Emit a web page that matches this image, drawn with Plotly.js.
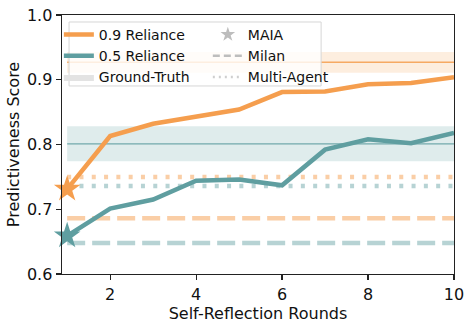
<!DOCTYPE html>
<html>
<head>
<meta charset="utf-8">
<script src="https://cdn.plot.ly/plotly-3.0.1.min.js"></script>
<style>
  html, body { margin: 0; padding: 0; background: #fff; }
  #chart { width: 473px; height: 327px; }
</style>
</head>
<body>
<div id="chart"></div>
<script>
// self-reflection rounds
var rounds = [1, 2, 3, 4, 5, 6, 7, 8, 9, 10];

// predictiveness per round
var reliance09 = [0.731, 0.813, 0.832, 0.843, 0.854, 0.881, 0.882, 0.893, 0.895, 0.904];
var reliance05 = [0.659, 0.701, 0.715, 0.744, 0.746, 0.737, 0.792, 0.808, 0.802, 0.818];

// baselines, [0.9 reliance, 0.5 reliance]
var gtMean = [0.927, 0.801];
var gtSpread = [0.016, 0.027];
var milanScore = [0.686, 0.648];
var multiAgentScore = [0.750, 0.736];

var seriesNames = ["0.9 Reliance", "0.5 Reliance"];
var seriesColors = ["#F59E4E", "#5F9EA0"];
var seriesFaint = ["rgba(245,158,78,0.5)", "rgba(95,158,160,0.45)"];
var bandColors = ["rgba(245,158,78,0.18)", "rgba(95,158,160,0.2)"];
var gtLineColors = ["rgba(245,158,78,0.85)", "rgba(95,158,160,0.85)"];

var allSeries = [reliance09, reliance05];
var first = rounds[0];
var last = rounds[rounds.length - 1];

var data = [];

// ground-truth bands + lines
for (var i = 0; i < 2; i++) {
  var lo = gtMean[i] - gtSpread[i];
  var hi = gtMean[i] + gtSpread[i];
  data.push({
    x: [first, last, last, first],
    y: [lo, lo, hi, hi],
    fill: "toself",
    fillcolor: bandColors[i],
    line: { width: 0 },
    mode: "lines",
    hoverinfo: "skip",
    showlegend: false
  });
  data.push({
    x: [first, last],
    y: [gtMean[i], gtMean[i]],
    mode: "lines",
    line: { color: gtLineColors[i], width: 1.3 },
    showlegend: false
  });
}

// milan (dashed) and multi-agent (dotted)
for (var i = 0; i < 2; i++) {
  data.push({
    x: [first, last],
    y: [milanScore[i], milanScore[i]],
    mode: "lines",
    line: { color: seriesFaint[i], width: 4.5, dash: "18px,7px" },
    showlegend: false
  });
  data.push({
    x: [first, last],
    y: [multiAgentScore[i], multiAgentScore[i]],
    mode: "lines",
    line: { color: seriesFaint[i], width: 4.5, dash: "4px,8.3px" },
    showlegend: false
  });
}

// main lines
for (var i = 0; i < 2; i++) {
  data.push({
    x: rounds,
    y: allSeries[i],
    mode: "lines",
    name: seriesNames[i],
    line: { color: seriesColors[i], width: 4.5 },
    legend: "legend"
  });
}

// MAIA stars at round 1
for (var i = 0; i < 2; i++) {
  data.push({
    x: [rounds[0]],
    y: [allSeries[i][0]],
    mode: "markers",
    marker: { symbol: "star", size: 20, color: seriesColors[i] },
    cliponaxis: false,
    showlegend: false
  });
}

// legend-only entries
data.push({
  x: [null], y: [null], mode: "lines", name: "Ground-Truth",
  fill: "toself", fillcolor: "#e3e3e3", line: { width: 0 },
  legend: "legend"
});
data.push({
  x: [null], y: [null], mode: "markers", name: "MAIA",
  marker: { symbol: "star", size: 11, color: "#bdbdbd" },
  legend: "legend2"
});
data.push({
  x: [null], y: [null], mode: "lines", name: "Milan",
  line: { color: "#bdbdbd", width: 2.5, dash: "7px,4px" },
  legend: "legend2"
});
data.push({
  x: [null], y: [null], mode: "lines", name: "Multi-Agent",
  line: { color: "#cfcfcf", width: 2.5, dash: "2px,4px" },
  legend: "legend2"
});

var legendBase = {
  bgcolor: "rgba(0,0,0,0)",
  borderwidth: 0,
  font: { family: "DejaVu Sans", size: 14, color: "#111" },
  xanchor: "left",
  yanchor: "top",
  itemwidth: 30,
  tracegroupgap: 0
};

var layout = {
  width: 473,
  height: 327,
  margin: { l: 62, r: 19, t: 15, b: 53 },
  paper_bgcolor: "#fff",
  plot_bgcolor: "#fff",
  font: { family: "DejaVu Sans", color: "#111" },
  xaxis: {
    range: [0.88, 10],
    tickvals: [2, 4, 6, 8, 10],
    ticks: "outside",
    ticklen: 5,
    tickwidth: 1.2,
    tickcolor: "#222",
    showgrid: false,
    zeroline: false,
    showline: true,
    mirror: true,
    linecolor: "#222",
    linewidth: 1.4,
    tickfont: { size: 16 },
    title: { text: "Self-Reflection Rounds", font: { size: 16 }, standoff: 0 }
  },
  yaxis: {
    range: [0.6, 1.0],
    tickvals: [0.6, 0.7, 0.8, 0.9, 1.0],
    tickformat: ".1f",
    ticks: "outside",
    ticklen: 5,
    tickwidth: 1.2,
    tickcolor: "#222",
    showgrid: false,
    zeroline: false,
    showline: true,
    mirror: true,
    linecolor: "#222",
    linewidth: 1.4,
    tickfont: { size: 16 },
    title: { text: "Predictiveness Score", font: { size: 16 }, standoff: 3 }
  },
  legend: Object.assign({}, legendBase, { x: -0.008, y: 0.985 }),
  legend2: Object.assign({}, legendBase, { x: 0.372, y: 0.985 }),
  shapes: [
    {
      type: "rect",
      xref: "paper", yref: "paper",
      x0: 0.018, x1: 0.661, y0: 0.726, y1: 0.973,
      fillcolor: "rgba(255,255,255,0.8)",
      line: { color: "#d6d6d6", width: 1 },
      layer: "above"
    }
  ],
  showlegend: true
};

Plotly.newPlot("chart", data, layout, { displayModeBar: false, staticPlot: true });
</script>
</body>
</html>
